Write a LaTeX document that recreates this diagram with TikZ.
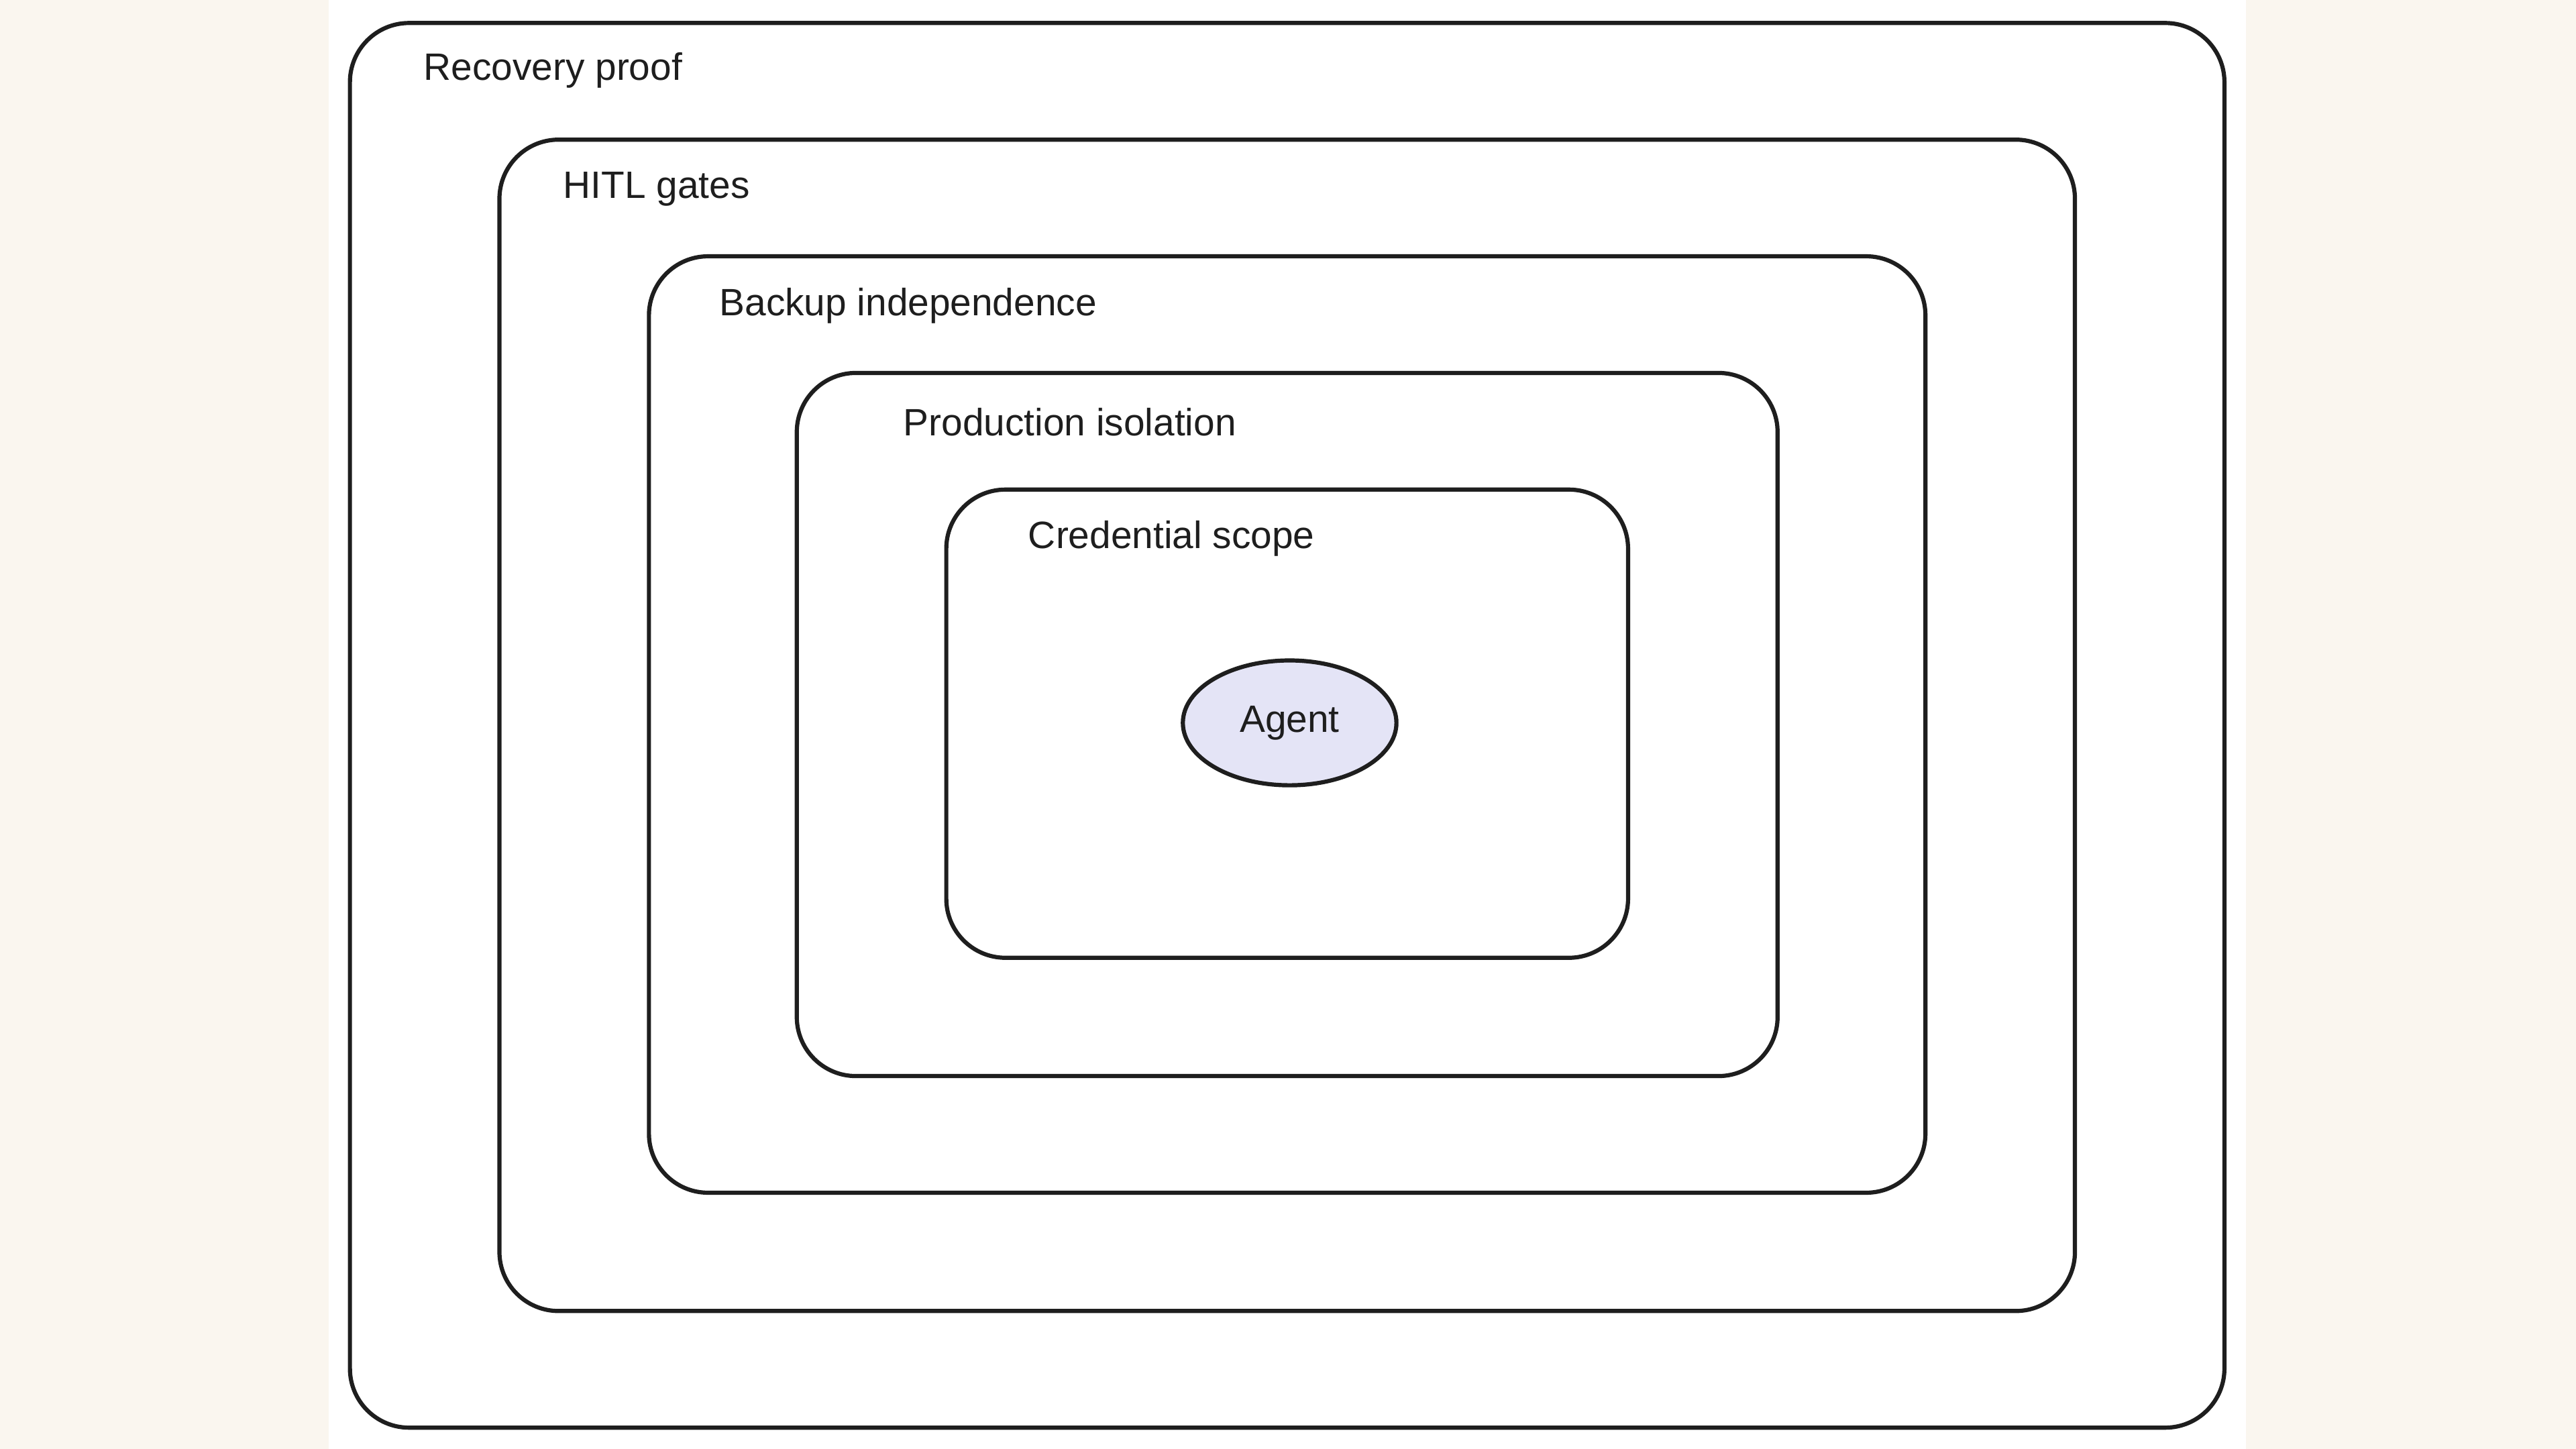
\documentclass[tikz,border=0pt]{standalone}
\usepackage{fontspec}
\setmainfont{Liberation Sans}
\usepackage{xcolor}
\usetikzlibrary{shapes}
\definecolor{paper}{HTML}{FAF6EF}
\definecolor{agentfill}{HTML}{E4E4F6}
\definecolor{ink}{HTML}{1E1E1E}
\tikzset{
	layer/.style={draw=ink, line width=1.8pt, rounded corners=0.9cm, inner sep=0pt},
	lbl/.style={anchor=west, text=ink, font=\fontsize{16.5}{19}\selectfont},
}
\begin{document}
\begin{tikzpicture}[x=0.025cm,y=-0.025cm]
	\fill [paper] (0,0) rectangle (1568,882);
	\fill [white] (200,0) rectangle (1367,882);
	\useasboundingbox (0,0) rectangle (1568,882);

	\node [layer, minimum width=1141*0.025cm, minimum height=855*0.025cm] (recovery) at (783.5, 441.5) {};
	\node [layer, minimum width=959*0.025cm, minimum height=713*0.025cm] (hitl) at (783.5, 441.5) {};
	\node [layer, minimum width=777*0.025cm, minimum height=570*0.025cm] (backup) at (783.5, 441) {};
	\node [layer, minimum width=597*0.025cm, minimum height=428*0.025cm] (prod) at (783.5, 441) {};
	\node [layer, minimum width=415*0.025cm, minimum height=285*0.025cm] (cred) at (783.5, 440.5) {};

	\node [lbl] (recoverylbl) at (253, 43) {Recovery proof};
	\node [lbl] (hitllbl) at (338, 115) {HITL gates};
	\node [lbl] (backuplbl) at (433, 186) {Backup independence};
	\node [lbl] (prodlbl) at (545, 257) {Production isolation};
	\node [lbl] (credlbl) at (621, 328) {Credential scope};

	\node [draw=ink, fill=agentfill, line width=1.8pt, shape=ellipse, minimum width=130*0.025cm, minimum height=76*0.025cm, font=\fontsize{16.5}{19}\selectfont, text=ink] (agent) at (785, 440) {Agent};
\end{tikzpicture}
\end{document}
